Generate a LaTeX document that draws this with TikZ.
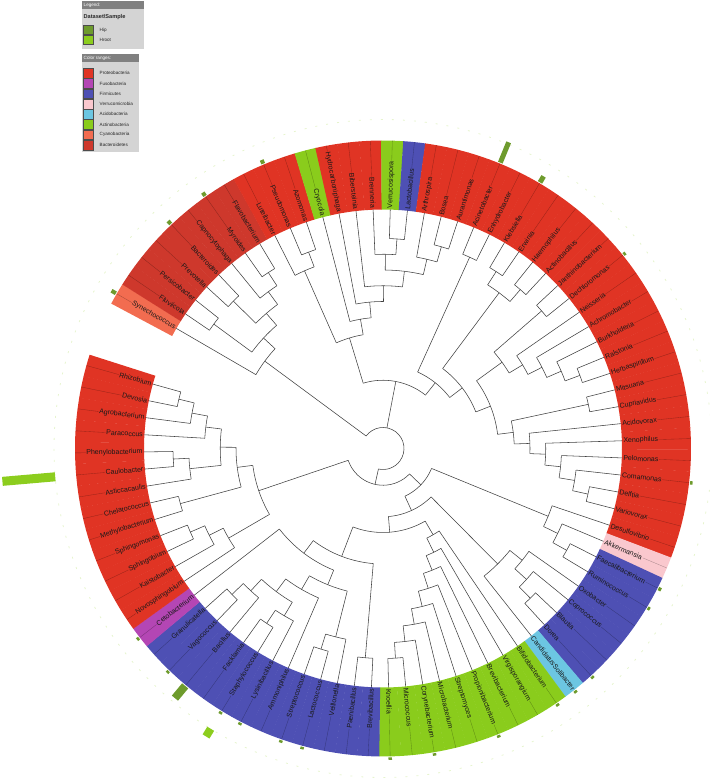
\documentclass[tikz,border=0pt]{standalone}
\usepackage{fontspec}
\setmainfont{Liberation Sans}
\definecolor{proteo}{RGB}{224,52,36}
\definecolor{bactero}{RGB}{206,56,44}
\definecolor{cyano}{RGB}{242,108,80}
\definecolor{actino}{RGB}{138,204,28}
\definecolor{firmi}{RGB}{78,80,180}
\definecolor{fuso}{RGB}{180,70,180}
\definecolor{verru}{RGB}{250,200,206}
\definecolor{acido}{RGB}{108,198,226}
\definecolor{hip}{RGB}{110,155,45}
\definecolor{hroot}{RGB}{140,205,30}
\definecolor{lghead}{RGB}{128,128,128}
\definecolor{lgbody}{RGB}{212,212,212}
\tikzset{
  tl/.style={draw=black!75, line width=0.55pt},
  inl/.style={draw=black, opacity=0.3, line width=0.35pt},
  lbl/.style={font=\fontsize{7}{8}\selectfont, text=black!90, inner sep=0.6pt, outer sep=0pt},
  lgt/.style={font=\fontsize{4.6}{5}\selectfont, text=black!85, inner sep=0pt, anchor=west},
  lgh/.style={font=\fontsize{4.6}{5}\selectfont, text=white, inner sep=0pt, anchor=west},
  sw/.style={draw=black!70, line width=0.35pt},
}
\newcommand\qa[1]{(100.6-4.1144*((#1)-1))}
\newcommand\hr[1]{(225.75-15.75*(#1))}
\newcommand\qof[1]{\csname q@#1\endcsname}
\newcommand\tleaf[5]{%
  \expandafter\xdef\csname q@#1\endcsname{#2}%
  \pgfmathsetmacro\myA{\qa{#2}}%
  \pgfmathsetmacro\myB{\myA-2.09}%
  \pgfmathsetmacro\myC{\myA+2.09}%
  \pgfmathsetmacro\myP{\hr{#3}}%
  \fill[#5] (\myB:239) arc[start angle=\myB, end angle=\myC, radius=239] -- (\myC:308) arc[start angle=\myC, end angle=\myB, radius=308] -- cycle;
  \draw[inl] (\myA:239) -- (\myA:308);
  \pgfmathtruncatemacro\myRt{cos(\myA)>=0}%
  \ifnum\myRt=1
    \node[lbl, fill=#5, anchor=west, rotate=\myA] (#1-l) at (\myA:240) {#4};
  \else
    \pgfmathsetmacro\myRot{\myA+180}%
    \node[lbl, fill=#5, anchor=east, rotate=\myRot] (#1-l) at (\myA:240) {#4};
  \fi
  \coordinate (#1) at (\myA:239);
  \coordinate (#1-s) at (\myA:\myP);
  \draw[tl] (#1) -- (#1-s);
}
\newcommand\tnode[5]{%
  \pgfmathsetmacro\myQ{(\qof{#4}+\qof{#5})/2}%
  \expandafter\xdef\csname q@#1\endcsname{\myQ}%
  \pgfmathsetmacro\myA{\qa{\myQ}}%
  \pgfmathsetmacro\myR{\hr{#2}}%
  \pgfmathsetmacro\myP{\hr{#3}}%
  \pgfmathsetmacro\myF{\qa{\qof{#4}}}%
  \pgfmathsetmacro\myL{\qa{\qof{#5}}}%
  \coordinate (#1) at (\myA:\myR);
  \coordinate (#1-s) at (\myA:\myP);
  \draw[tl] (#1) -- (#1-s);
  \draw[tl] (\myF:\myR) arc[start angle=\myF, end angle=\myL, radius=\myR];
}
\newcommand\dbar[5]{%
  \pgfmathsetmacro\myA{\qa{#1}}%
  \draw[line width=#4, #5] (\myA:#2) -- (\myA:#3);
}
\begin{document}
\begin{tikzpicture}[x=1pt,y=1pt]
\useasboundingbox (-383,-329.5) rectangle (326,448.5);
% faint dataset baseline
\draw[hroot!22, line width=0.8pt, dash pattern=on 2pt off 9pt] (0,0) circle[radius=329];
% leaves
\tleaf{Syn}{-10.968}{5}{Synechococcus}{cyano}
\tleaf{Fluv}{-9.968}{1}{Fluviicola}{bactero}
\tleaf{Pers}{-8.968}{1}{Persicobacter}{bactero}
\tleaf{Prev}{-7.968}{1}{Prevotella}{bactero}
\tleaf{Bact}{-6.968}{1}{Bacteroides}{bactero}
\tleaf{Capn}{-5.968}{2}{Capnocytophaga}{bactero}
\tleaf{Myro}{-4.968}{1}{Myroides}{bactero}
\tleaf{Flav}{-3.968}{1}{Flavobacterium}{bactero}
\tleaf{Lute}{-2.968}{2}{Luteibacter}{proteo}
\tleaf{Pseu}{-1.968}{1}{Pseudomonas}{proteo}
\tleaf{Azom}{-0.968}{1}{Azomonas}{proteo}
\tleaf{Cryo}{0.032}{6}{Cryocola}{actino}
\tleaf{Hydr}{1}{5}{Hydrocarboniphaga}{proteo}
\tleaf{Bibe}{2}{4}{Bibersteinia}{proteo}
\tleaf{Bren}{3}{2}{Brenneria}{proteo}
\tleaf{Verr}{4}{1}{Verrucosispora}{actino}
\tleaf{Lact}{5}{1}{Lactobacillus}{firmi}
\tleaf{Arth}{6}{2}{Arthrospira}{proteo}
\tleaf{Bose}{7}{1}{Bosea}{proteo}
\tleaf{Aura}{8}{1}{Aurantimonas}{proteo}
\tleaf{Acin}{9}{1}{Acinetobacter}{proteo}
\tleaf{Enhy}{10}{1}{Enhydrobacter}{proteo}
\tleaf{Kleb}{11}{1}{Klebsiella}{proteo}
\tleaf{Erwi}{12}{1}{Erwinia}{proteo}
\tleaf{Haem}{13}{1}{Haemophilus}{proteo}
\tleaf{Actb}{14}{1}{Actinobacillus}{proteo}
\tleaf{Jant}{15}{1}{Janthinobacterium}{proteo}
\tleaf{Dech}{16}{1}{Dechloromonas}{proteo}
\tleaf{Neis}{17}{4}{Neisseria}{proteo}
\tleaf{Achr}{18}{3}{Achromobacter}{proteo}
\tleaf{Burk}{19}{2}{Burkholderia}{proteo}
\tleaf{Rals}{20}{1}{Ralstonia}{proteo}
\tleaf{Herb}{21}{1}{Herbaspirillum}{proteo}
\tleaf{Mits}{22}{1}{Mitsuaria}{proteo}
\tleaf{Cupr}{23}{1}{Cupriavidus}{proteo}
\tleaf{Acid}{24}{5}{Acidovorax}{proteo}
\tleaf{Xeno}{25}{4}{Xenophilus}{proteo}
\tleaf{Pelo}{26}{3}{Pelomonas}{proteo}
\tleaf{Coma}{27}{2}{Comamonas}{proteo}
\tleaf{Delf}{28}{1}{Delftia}{proteo}
\tleaf{Vari}{29}{1}{Variovorax}{proteo}
\tleaf{Desu}{30}{3}{Desulfovibrio}{proteo}
\tleaf{Akke}{31}{2}{Akkermansia}{verru}
\tleaf{Faec}{32}{1}{Faecalibacterium}{firmi}
\tleaf{Rumi}{33}{1}{Ruminococcus}{firmi}
\tleaf{Oxob}{34}{3}{Oxobacter}{firmi}
\tleaf{Copr}{35}{2}{Coprococcus}{firmi}
\tleaf{Blau}{36}{1}{Blautia}{firmi}
\tleaf{Dore}{37}{1}{Dorea}{firmi}
\tleaf{Cand}{38}{4}{CandidatusSolibacter}{acido}
\tleaf{Bifi}{39}{8}{Bifidobacterium}{actino}
\tleaf{Virg}{40}{7}{Virgisporangium}{actino}
\tleaf{Brvb}{41}{6}{Brevibacterium}{actino}
\tleaf{Prop}{42}{5}{Propionibacterium}{actino}
\tleaf{Stmy}{43}{4}{Streptomyces}{actino}
\tleaf{Micb}{44}{3}{Microbacterium}{actino}
\tleaf{Cory}{45}{2}{Corynebacterium}{actino}
\tleaf{Micc}{46}{1}{Micrococcus}{actino}
\tleaf{Knoe}{47}{1}{Knoellia}{actino}
\tleaf{Brvl}{48}{1}{Brevibacillus}{firmi}
\tleaf{Paen}{49}{1}{Paenibacillus}{firmi}
\tleaf{Veil}{50}{2}{Veillonella}{firmi}
\tleaf{Lcoc}{51}{1}{Lactococcus}{firmi}
\tleaf{Stco}{52}{1}{Streptococcus}{firmi}
\tleaf{Ammo}{53}{4}{Ammoniphilus}{firmi}
\tleaf{Lysi}{54}{2}{Lysinibacillus}{firmi}
\tleaf{Stap}{55}{1}{Staphylococcus}{firmi}
\tleaf{Fack}{56}{1}{Facklamia}{firmi}
\tleaf{Baci}{57}{2}{Bacillus}{firmi}
\tleaf{Vago}{58}{1}{Vagococcus}{firmi}
\tleaf{Gran}{59}{1}{Granulicatella}{firmi}
\tleaf{Ceto}{60}{6}{Cetobacterium}{fuso}
\tleaf{Novo}{61}{3}{Novosphingobium}{proteo}
\tleaf{Kais}{62}{2}{Kaistobacter}{proteo}
\tleaf{Sphb}{63}{1}{Sphingobium}{proteo}
\tleaf{Sphm}{64}{1}{Sphingomonas}{proteo}
\tleaf{Meth}{65}{1}{Methylobacterium}{proteo}
\tleaf{Chel}{66}{1}{Chelatococcus}{proteo}
\tleaf{Asti}{67}{2}{Asticcacaulis}{proteo}
\tleaf{Caul}{68}{1}{Caulobacter}{proteo}
\tleaf{Phen}{69}{1}{Phenylobacterium}{proteo}
\tleaf{Para}{70}{3}{Paracoccus}{proteo}
\tleaf{Agro}{71}{2}{Agrobacterium}{proteo}
\tleaf{Devo}{72}{1}{Devosia}{proteo}
\tleaf{Rhiz}{73}{1}{Rhizobium}{proteo}
% internal nodes
\tnode{b1}{1}{4}{Fluv}{Pers}
\tnode{b2}{1}{3}{Prev}{Bact}
\tnode{b3}{1}{2}{Myro}{Flav}
\tnode{b4}{2}{3}{Capn}{b3}
\tnode{b5}{3}{4}{b2}{b4}
\tnode{b6}{4}{5}{b1}{b5}
\tnode{SB}{5}{13}{Syn}{b6}
\tnode{p1}{1}{2}{Pseu}{Azom}
\tnode{p2}{2}{7}{Lute}{p1}
\tnode{t1}{1}{2}{Verr}{Lact}
\tnode{t2}{2}{3}{Bren}{t1}
\tnode{t3}{1}{2}{Bose}{Aura}
\tnode{t4}{2}{3}{Arth}{t3}
\tnode{X1}{3}{4}{t2}{t4}
\tnode{t5}{4}{5}{Bibe}{X1}
\tnode{t6}{5}{6}{Hydr}{t5}
\tnode{t7}{6}{7}{Cryo}{t6}
\tnode{Y}{7}{10}{p2}{t7}
\tnode{e1}{1}{9}{Acin}{Enhy}
\tnode{e2}{1}{2}{Kleb}{Erwi}
\tnode{e3}{1}{2}{Haem}{Actb}
\tnode{e4}{2}{8}{e2}{e3}
\tnode{k1}{1}{5}{Jant}{Dech}
\tnode{k2}{1}{2}{Rals}{Herb}
\tnode{k3}{2}{3}{Burk}{k2}
\tnode{k4}{3}{4}{Achr}{k3}
\tnode{k5}{4}{5}{Neis}{k4}
\tnode{kB}{5}{7}{k1}{k5}
\tnode{c1}{1}{6}{Mits}{Cupr}
\tnode{c2}{1}{2}{Delf}{Vari}
\tnode{c3}{2}{3}{Coma}{c2}
\tnode{c4}{3}{4}{Pelo}{c3}
\tnode{c5}{4}{5}{Xeno}{c4}
\tnode{c6}{5}{6}{Acid}{c5}
\tnode{cC}{6}{7}{c1}{c6}
\tnode{BC}{7}{8}{kB}{cC}
\tnode{V}{8}{9}{e4}{BC}
\tnode{W}{9}{10}{e1}{V}
\tnode{Ntop}{10}{13}{Y}{W}
\tnode{d1}{1}{2}{Faec}{Rumi}
\tnode{d2}{2}{3}{Akke}{d1}
\tnode{D}{3}{11}{Desu}{d2}
\tnode{l1}{1}{2}{Blau}{Dore}
\tnode{l2}{2}{3}{Copr}{l1}
\tnode{Cl}{3}{4}{Oxob}{l2}
\tnode{ClC}{4}{10}{Cl}{Cand}
\tnode{a1}{1}{2}{Micc}{Knoe}
\tnode{a2}{2}{3}{Cory}{a1}
\tnode{a3}{3}{4}{Micb}{a2}
\tnode{a4}{4}{5}{Stmy}{a3}
\tnode{a5}{5}{6}{Prop}{a4}
\tnode{a6}{6}{7}{Brvb}{a5}
\tnode{a7}{7}{8}{Virg}{a6}
\tnode{Act}{8}{9}{Bifi}{a7}
\tnode{f0}{1}{7}{Brvl}{Paen}
\tnode{fSL}{1}{2}{Lcoc}{Stco}
\tnode{fV}{2}{5}{Veil}{fSL}
\tnode{fFS}{1}{2}{Stap}{Fack}
\tnode{fL}{2}{3}{Lysi}{fFS}
\tnode{fGV}{1}{2}{Vago}{Gran}
\tnode{fB}{2}{3}{Baci}{fGV}
\tnode{f5}{3}{4}{fL}{fB}
\tnode{f6}{4}{5}{Ammo}{f5}
\tnode{f9}{5}{6}{fV}{f6}
\tnode{f10}{6}{7}{f9}{Ceto}
\tnode{F11}{7}{9}{f0}{f10}
\tnode{M}{9}{10}{Act}{F11}
\tnode{K}{10}{11}{ClC}{M}
\tnode{P}{11}{12}{D}{K}
\tnode{s1}{1}{2}{Sphb}{Sphm}
\tnode{s2}{2}{3}{Kais}{s1}
\tnode{s3}{3}{6}{Novo}{s2}
\tnode{m1}{1}{5}{Meth}{Chel}
\tnode{u1}{1}{2}{Caul}{Phen}
\tnode{u2}{2}{4}{Asti}{u1}
\tnode{r1}{1}{2}{Devo}{Rhiz}
\tnode{r2}{2}{3}{Agro}{r1}
\tnode{r3}{3}{4}{Para}{r2}
\tnode{u3}{4}{5}{u2}{r3}
\tnode{m2}{5}{6}{m1}{u3}
\tnode{A}{6}{12}{s3}{m2}
\tnode{Q}{12}{13}{P}{A}
\tnode{root}{13}{13}{SB}{Q}
% dataset bars (Hip)
\dbar{9}{309}{331}{5pt}{hip}
\dbar{11}{309}{316}{5pt}{hip}
\dbar{16}{309}{311.5}{3.5pt}{hip}
\dbar{27}{309}{311.5}{3.5pt}{hip}
\dbar{32}{309}{312}{3.5pt}{hip}
\dbar{33}{309}{311.5}{3.5pt}{hip}
\dbar{37}{309}{311.5}{3.5pt}{hip}
\dbar{38}{309}{311.5}{3.5pt}{hip}
\dbar{39}{309}{311.5}{3.5pt}{hip}
\dbar{42}{309}{311.5}{3.5pt}{hip}
\dbar{45}{309}{311.5}{3.5pt}{hip}
\dbar{47}{309}{311.5}{3.5pt}{hip}
\dbar{51}{309}{311.5}{3.5pt}{hip}
\dbar{52}{309}{311.5}{3.5pt}{hip}
\dbar{54}{309}{311.5}{3.5pt}{hip}
\dbar{55}{309}{311.5}{3.5pt}{hip}
\dbar{57}{309}{325}{8pt}{hip}
\dbar{58}{309}{311.5}{3.5pt}{hip}
\dbar{60}{309}{311.5}{3.5pt}{hip}
\dbar{-10.968}{309}{314}{4pt}{hip}
\dbar{-6.968}{309}{313}{4pt}{hip}
\dbar{-4.968}{309}{313}{4pt}{hip}
\dbar{-1.968}{309}{313}{4pt}{hip}
% dataset bars (Hroot)
\dbar{68}{329}{382}{9pt}{hroot}
\dbar{55}{329}{338}{8pt}{hroot}
% legend
\begin{scope}[shift={(-383,448.5)}, yscale=-1]
  \fill[lgbody] (82,1) rectangle (144,49);
  \fill[lghead] (82,1) rectangle (144,9.5);
  \node[lgh] (lg-t) at (83.5,5.2) {Legend:};
  \node[lgt, font=\bfseries\fontsize{5.6}{6}\selectfont] (lg-ds) at (83.5,17.5) {Dataset\textbackslash Sample};
  \filldraw[sw, fill=hip] (83.5,25) rectangle (93.5,34.5);
  \filldraw[sw, fill=hroot] (83.5,35) rectangle (93.5,44.5);
  \node[lgt] (lg-hip) at (99.5,30) {Hip};
  \node[lgt] (lg-hroot) at (99.5,40) {Hroot};
  \fill[lgbody] (82,54) rectangle (139,152);
  \fill[lghead] (82,54) rectangle (139,62);
  \node[lgh] (lg-c) at (83.5,58) {Color ranges:};
  \foreach \c/\t [count=\k from 0] in {proteo/Proteobacteria, fuso/Fusobacteria, firmi/Firmicutes, verru/Verrucomicrobia, acido/Acidobacteria, actino/Actinobacteria, cyano/Cyanobacteria, bactero/Bacteroidetes}{
    \filldraw[sw, fill=\c] (83.5,{68.3+10.25*\k}) rectangle (93.5,{78.1+10.25*\k});
    \node[lgt] (lg-\k) at (99.5,{73.2+10.25*\k}) {\t};
  }
\end{scope}
\end{tikzpicture}
\end{document}
